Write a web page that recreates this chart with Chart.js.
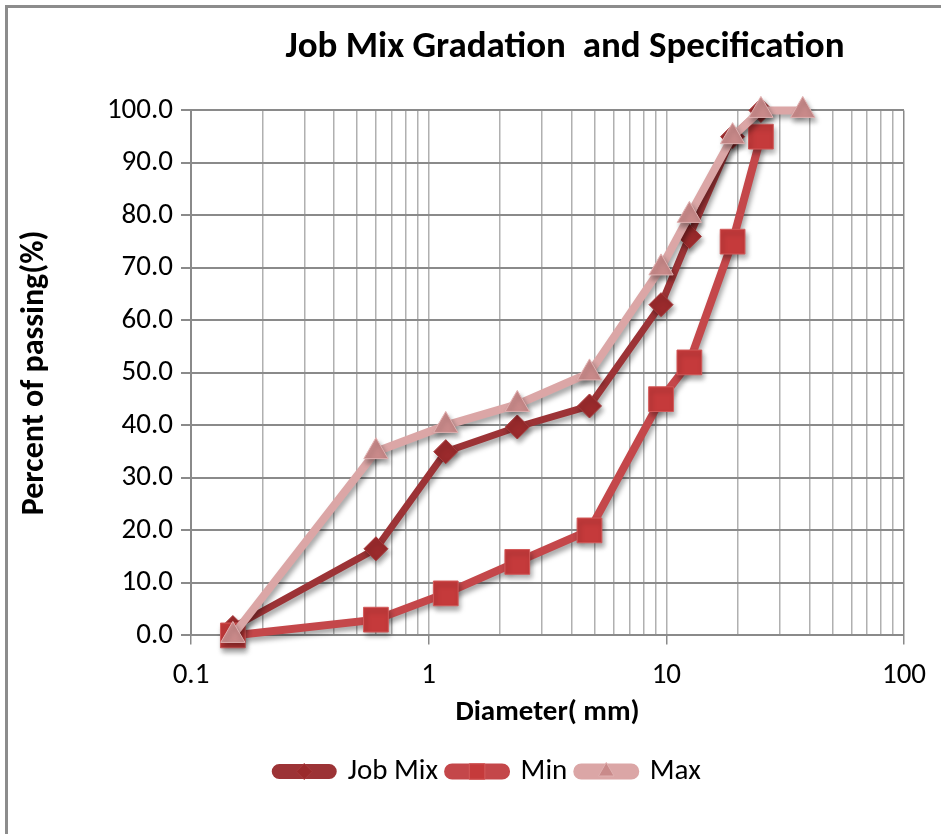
<!DOCTYPE html>
<html>
<head>
<meta charset="utf-8">
<script src="https://cdn.jsdelivr.net/npm/chart.js@4.4.0/dist/chart.umd.min.js"></script>
<style>
    html, body { margin: 0; padding: 0; background: #fff; }
    #wrap { position: relative; width: 941px; height: 834px; }
    #frame { position: absolute; left: 5px; top: 5px; width: 960px; height: 860px;
             border-left: 3px solid #8c8c8c; border-top: 3px solid #8c8c8c; }
    canvas { position: absolute; left: 0; top: 0; }
</style>
</head>
<body>
<div id="wrap">
    <div id="frame"></div>
    <canvas id="gradationChart" width="941" height="834"></canvas>
</div>
<script>
    // sieve sizes (mm) and percent passing
    const sieves = [0.15, 0.6, 1.18, 2.36, 4.75, 9.5, 12.5, 19, 25, 37.5];
    const jobMix = [1.5, 16.5, 35, 39.7, 43.7, 63, 76, 95, 100, null];
    const minSpec = [0, 3, 8, 14, 20, 45, 52, 75, 95, null];
    const maxSpec = [0, 35, 40, 44, 50, 70, 80, 95, 100, 100];
    const xTickLabels = ['0.1', '1', '10', '100'];

    const FONT = "Carlito, 'Liberation Sans Narrow', 'Open Sans', sans-serif";

    function toPoints(values) {
        return sieves.map((s, i) => ({ x: s, y: values[i] })).filter(p => p.y !== null);
    }

    // grid positions 0.1 .. 100 (1..9 per decade)
    const gridValues = [];
    [0.1, 1, 10].forEach(function (d) {
        for (let m = 1; m < 10; m++) gridValues.push(+(d * m).toFixed(2));
    });
    gridValues.push(100);

    const shadowPlugin = {
        id: 'shadow',
        beforeDatasetsDraw(chart) {
            const c = chart.ctx;
            c.save();
            c.shadowColor = 'rgba(0,0,0,0.35)';
            c.shadowBlur = 5;
            c.shadowOffsetX = 2;
            c.shadowOffsetY = 4;
        },
        afterDatasetsDraw(chart) {
            chart.ctx.restore();
        }
    };

    // Excel puts the title and legend a bit right of the canvas centre
    const boxShift = {
        id: 'boxShift',
        afterLayout(chart) {
            chart.titleBlock.left += 105;
            chart.titleBlock.right += 105;
            chart.legend.left += 28;
            chart.legend.right += 28;
        }
    };

    const legendMarkers = {
        id: 'legendMarkers',
        afterDraw(chart) {
            const legend = chart.legend;
            const c = chart.ctx;
            legend.legendItems.forEach(function (item, i) {
                const box = legend.legendHitBoxes[i];
                const ds = chart.data.datasets[item.datasetIndex];
                const cx = box.left + 29;
                const cy = box.top + box.height / 2;
                c.save();
                c.fillStyle = ds.pointBackgroundColor;
                c.strokeStyle = ds.pointBorderColor;
                Chart.helpers.drawPoint(c, {
                    pointStyle: ds.pointStyle,
                    radius: ds.legendRadius,
                    rotation: 0,
                    borderWidth: 1
                }, cx, cy);
                c.restore();
            });
        }
    };

    const ctx = document.getElementById('gradationChart').getContext('2d');

    new Chart(ctx, {
        type: 'line',
        data: {
            datasets: [
                {
                    label: 'Job Mix',
                    data: toPoints(jobMix),
                    borderColor: '#9c3336',
                    backgroundColor: '#9c3336',
                    borderWidth: 7,
                    pointStyle: 'rectRot',
                    pointRadius: 12,
                    pointBackgroundColor: '#9a2a2c',
                    pointBorderColor: '#a83a3c',
                    pointBorderWidth: 1,
                    legendRadius: 8,
                    clip: false,
                    order: 2
                },
                {
                    label: 'Min',
                    data: toPoints(minSpec),
                    borderColor: '#c4474a',
                    backgroundColor: '#c4474a',
                    borderWidth: 8,
                    pointStyle: 'rect',
                    pointRadius: 17.5,
                    pointBackgroundColor: '#c53a3b',
                    pointBorderColor: '#d35a5a',
                    pointBorderWidth: 1,
                    legendRadius: 11,
                    clip: false,
                    order: 1
                },
                {
                    label: 'Max',
                    data: toPoints(maxSpec),
                    borderColor: '#dba6a6',
                    backgroundColor: '#dba6a6',
                    borderWidth: 8,
                    pointStyle: 'triangle',
                    pointRadius: 14,
                    pointBackgroundColor: '#c98a8a',
                    pointBorderColor: '#e0b0b0',
                    pointBorderWidth: 1,
                    legendRadius: 9,
                    clip: false,
                    order: 0
                }
            ]
        },
        options: {
            responsive: false,
            animation: false,
            layout: {
                padding: { left: 16, right: 37, top: 0, bottom: 38 }
            },
            plugins: {
                title: {
                    display: true,
                    text: 'Job Mix Gradation  and Specification',
                    color: '#000',
                    font: { family: FONT, size: 37, weight: 'bold' },
                    padding: { top: 26, bottom: 40 }
                },
                legend: {
                    position: 'bottom',
                    labels: {
                        color: '#000',
                        font: { family: FONT, size: 29 },
                        boxWidth: 58,
                        boxHeight: 8,
                        useBorderRadius: true,
                        borderRadius: 4,
                        padding: 10,
                        sort: (a, b) => a.datasetIndex - b.datasetIndex
                    }
                },
                tooltip: { enabled: false }
            },
            scales: {
                x: {
                    type: 'logarithmic',
                    min: 0.1,
                    max: 100,
                    afterBuildTicks: function (scale) {
                        scale.ticks = gridValues.map(v => ({ value: v, major: false }));
                    },
                    ticks: {
                        autoSkip: false,
                        maxRotation: 0,
                        color: '#000',
                        font: { family: FONT, size: 29 },
                        padding: 14,
                        callback: function (value) {
                            const lbl = String(+value.toFixed(2));
                            return xTickLabels.includes(lbl) ? lbl : '';
                        }
                    },
                    grid: {
                        color: function (c) {
                            const v = c.tick ? c.tick.value : 0;
                            if (v === 100) return '#8a8a8a';
                            return '#b0b0b0';
                        },
                        tickColor: function (c) {
                            const v = c.tick ? c.tick.value : 0;
                            return [0.1, 1, 10, 100].includes(v) ? '#8a8a8a' : 'rgba(0,0,0,0)';
                        },
                        lineWidth: 1.5,
                        tickLength: 9
                    },
                    border: { color: '#8a8a8a', width: 2 },
                    title: {
                        display: true,
                        text: 'Diameter( mm)',
                        color: '#000',
                        font: { family: FONT, size: 29, weight: 'bold' },
                        padding: { top: -12, bottom: 17 }
                    }
                },
                y: {
                    min: 0,
                    max: 100,
                    ticks: {
                        stepSize: 10,
                        color: '#000',
                        font: { family: FONT, size: 29 },
                        padding: 8,
                        callback: v => v.toFixed(1)
                    },
                    grid: {
                        color: '#8a8a8a',
                        lineWidth: 2,
                        tickLength: 10
                    },
                    border: { color: '#8a8a8a', width: 2 },
                    title: {
                        display: true,
                        text: 'Percent of passing(%)',
                        color: '#000',
                        font: { family: FONT, size: 32, weight: 'bold' },
                        padding: { top: 0, bottom: 2 }
                    },
                    afterFit: function (scale) {
                        scale.width = 175;
                    }
                }
            }
        },
        plugins: [shadowPlugin, boxShift, legendMarkers]
    });
</script>
</body>
</html>
